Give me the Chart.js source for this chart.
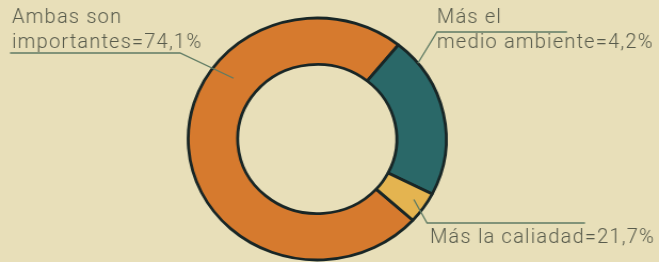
<!DOCTYPE html>
<html>
<head>
<meta charset="utf-8">
<script src="https://cdn.jsdelivr.net/npm/chart.js@4"></script>
<style>
  html, body { margin: 0; padding: 0; background: #e8dfb9; overflow: hidden; }
  #wrap { width: 618px; height: 262px; transform: scaleX(1.0663); transform-origin: 0 0; }
</style>
</head>
<body>
<div id="wrap"><canvas id="grafico" width="618" height="262"></canvas></div>
<script>
// datos del gráfico
const categorias = ['Ambas son importantes', 'Más el medio ambiente', 'Más la caliadad'];
const valores = [74.1, 21.7, 4.2];
// textos tal como aparecen en la imagen
const etiquetas = [
  ['Ambas son', 'importantes=74,1%'],
  ['Más el', 'medio ambiente=4,2%'],
  ['Más la caliadad=21,7%']
];
const colores = ['#d67a2e', '#2a6868', '#e4b450'];

const SX = 1.0663; // estiramiento horizontal del anillo

// dónde va cada etiqueta (coordenadas de la página) y dónde toca el anillo
const posEtiquetas = [
  { x: 12, y: 23, linea: 'under', lx0: 10, lx1: 180, ly: 53, t: 0.658, r: 0.53 },
  { x: 437, y: 23, linea: 'over', lx0: 437, lx1: 567, ly: 32, t: 0.157, r: 1.0 },
  { x: 430, y: 243, linea: 'over', lx0: 427, lx1: 585, ly: 223, t: 0.44, r: 0.74 }
];

const pluginEtiquetas = {
  id: 'etiquetas',
  afterDraw(chart) {
    const ctx = chart.ctx;
    const arcs = chart.getDatasetMeta(0).data;
    ctx.save();
    posEtiquetas.forEach((p, i) => {
      const arc = arcs[i];
      const a = arc.startAngle + p.t * (arc.endAngle - arc.startAngle);
      const rr = arc.innerRadius + p.r * (arc.outerRadius - arc.innerRadius);
      const ax = arc.x + Math.cos(a) * rr;
      const ay = arc.y + Math.sin(a) * rr;

      // línea guía
      ctx.strokeStyle = '#5f7b64';
      ctx.lineWidth = 1.3;
      ctx.beginPath();
      if (p.linea === 'under') {
        ctx.moveTo(p.lx0 / SX, p.ly);
        ctx.lineTo(p.lx1 / SX, p.ly);
        ctx.lineTo(ax, ay);
      } else {
        ctx.moveTo(p.lx1 / SX, p.ly);
        ctx.lineTo(p.lx0 / SX, p.ly);
        ctx.lineTo(ax, ay);
      }
      ctx.stroke();

      // texto (se compensa el estiramiento)
      ctx.fillStyle = '#585b4c';
      ctx.font = '300 20px Roboto';
      ctx.letterSpacing = '1.2px';
      ctx.textBaseline = 'alphabetic';
      etiquetas[i].forEach((linea, k) => {
        ctx.save();
        ctx.translate(p.x / SX, p.y + k * 24.5);
        ctx.scale(1 / SX, 1);
        ctx.fillText(linea, 0, 0);
        ctx.restore();
      });
    });
    ctx.restore();
  }
};

new Chart(document.getElementById('grafico'), {
  type: 'doughnut',
  data: {
    labels: categorias,
    datasets: [{
      data: valores,
      backgroundColor: colores,
      borderColor: '#182626',
      borderWidth: 2.8,
      radius: 121,
      cutout: 75
    }]
  },
  options: {
    responsive: false,
    animation: false,
    rotation: 132.2,
    layout: { padding: { top: 16, right: 23 } },
    plugins: {
      legend: { display: false },
      tooltip: { enabled: false }
    }
  },
  plugins: [pluginEtiquetas]
});
</script>
</body>
</html>
